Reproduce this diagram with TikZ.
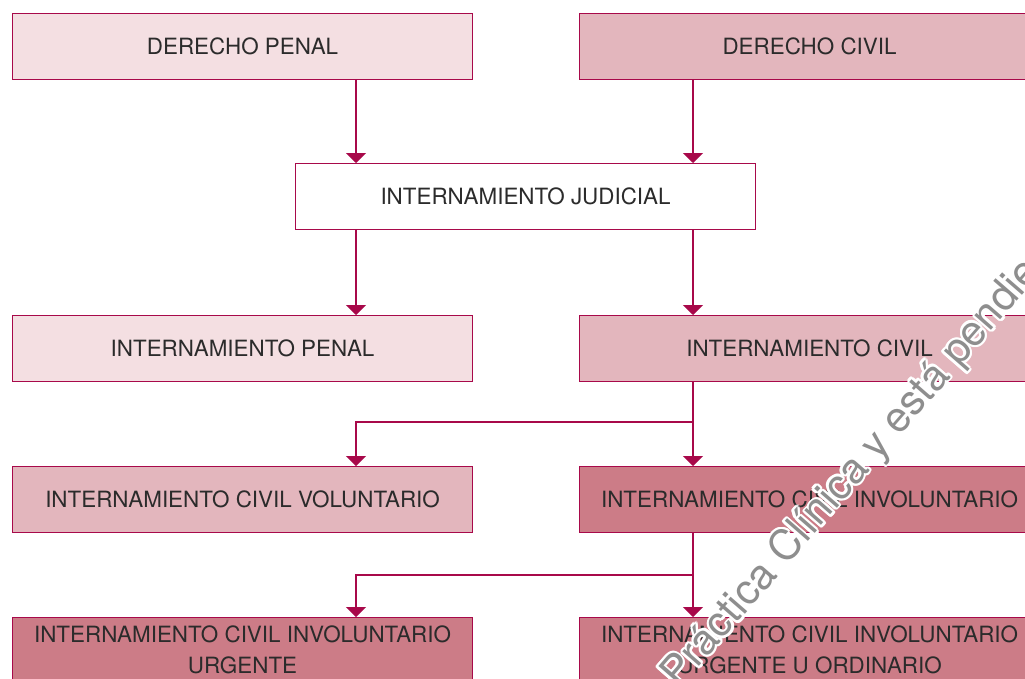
\documentclass[tikz,border=0pt]{standalone}
\usepackage{fontspec}
\setmainfont{TeX Gyre Heros}
\usepackage{tikz}
\usetikzlibrary{arrows.meta}

\definecolor{vino}{HTML}{A8094A}
\definecolor{rosaclaro}{HTML}{F4DFE2}
\definecolor{rosamedio}{HTML}{E3B6BD}
\definecolor{rosaoscuro}{HTML}{CC7C87}
\definecolor{texto}{HTML}{2B2B2B}
\definecolor{marca}{HTML}{8E8E8E}

\tikzset{
    caja/.style = {draw = vino, line width = 1.1pt, minimum width = 460pt,
        minimum height = 66pt, inner sep = 0pt, anchor = north west,
        text = texto, align = center, font = \fontsize{22.4}{31}\selectfont},
    flecha/.style = {draw = vino, line width = 1.3pt,
        -{Triangle[width = 20pt, length = 10pt]}},
    marcaagua/.style = {anchor = base west, rotate = 49, inner sep = 0pt,
        font = \fontsize{42}{42}\selectfont}
}

\begin{document}
\begin{tikzpicture}[x = 1pt, y = -1pt]
        \useasboundingbox (0,0) rectangle (1025,678);
        \clip (0,0) rectangle (1025,678);
        \fill[white] (0,0) rectangle (1025,678);

        % columnas de las flechas
        \coordinate (colL) at (356,0);
        \coordinate (colR) at (693,0);

        \node (dp)[caja, fill = rosaclaro] at (12,13) {DERECHO PENAL};
        \node (dc)[caja, fill = rosamedio] at (579,13) {DERECHO CIVIL};
        \node (ij)[caja, fill = white] at (295,163) {INTERNAMIENTO JUDICIAL};
        \node (ip)[caja, fill = rosaclaro] at (12,315) {INTERNAMIENTO PENAL};
        \node (ic)[caja, fill = rosamedio] at (579,315) {INTERNAMIENTO CIVIL};
        \node (icv)[caja, fill = rosamedio] at (12,466) {INTERNAMIENTO CIVIL VOLUNTARIO};
        \node (ici)[caja, fill = rosaoscuro] at (579,466) {INTERNAMIENTO CIVIL INVOLUNTARIO};
        \node (iciu)[caja, fill = rosaoscuro, minimum height = 65pt] at (12,617)
            {INTERNAMIENTO CIVIL INVOLUNTARIO\\URGENTE};
        \node (iciuo)[caja, fill = rosaoscuro, minimum height = 65pt] at (579,617)
            {INTERNAMIENTO CIVIL INVOLUNTARIO\\URGENTE U ORDINARIO};

        \coordinate (splitA) at (693,422);
        \coordinate (splitB) at (693,575);

        \path (dp.south -| colL) edge[flecha] (ij.north -| colL);
        \path (dc.south -| colR) edge[flecha] (ij.north -| colR);
        \path (ij.south -| colL) edge[flecha] (ip.north -| colL);
        \path (ij.south -| colR) edge[flecha] (ic.north -| colR);
        \path (ic.south -| colR) edge[flecha] (ici.north -| colR);
        \draw[flecha] (splitA) -| (icv.north -| colL);
        \path (ici.south -| colR) edge[flecha] (iciuo.north -| colR);
        \draw[flecha] (splitB) -| (iciu.north -| colL);

        % marca de agua
        \foreach \ang in {0,30,...,330}
            \node (halo\ang)[marcaagua, text = white, shift = {(\ang:2.4pt)}] at (679,690)
                {Práctica Clínica y está pendiente};
        \node (marca)[marcaagua, text = marca] at (679,690)
            {Práctica Clínica y está pendiente};
    \end{tikzpicture}
\end{document}
